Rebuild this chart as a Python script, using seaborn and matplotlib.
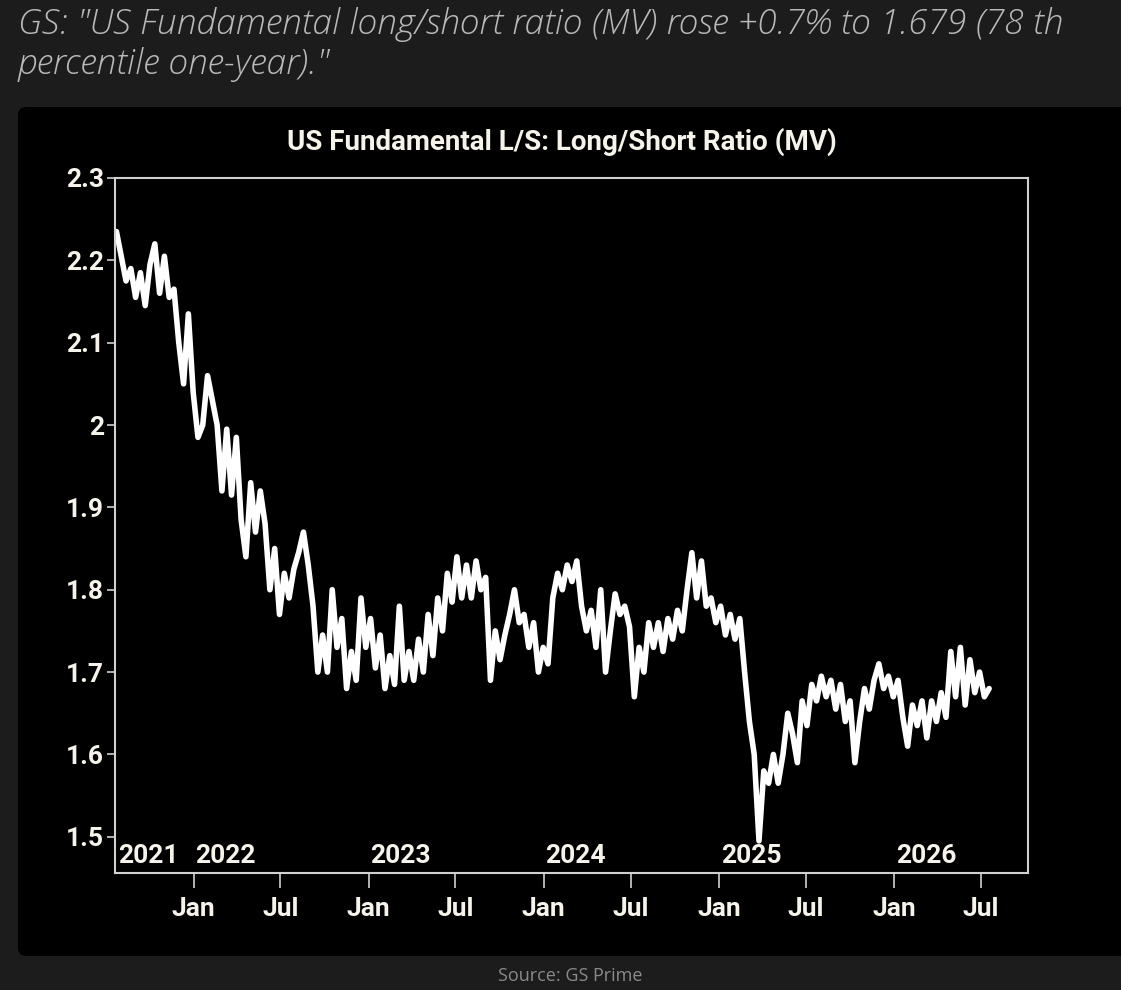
import pandas as pd
import numpy as np
import matplotlib
matplotlib.use('Agg')
import matplotlib.pyplot as plt
import matplotlib.dates as mdates
from matplotlib.patches import FancyBboxPatch
import seaborn as sns

# --- data (one value every 10 days) ---
start_date = '2021-07-24'
ratio_mv = [
    2.235, 2.205, 2.175, 2.19, 2.155, 2.185, 2.145, 2.195, 2.22, 2.16,
    2.205, 2.155, 2.165, 2.10, 2.05, 2.135, 2.04, 1.985, 2.00, 2.06,
    2.03, 2.00, 1.92, 1.995, 1.915, 1.985, 1.885, 1.84, 1.93, 1.87,
    1.92, 1.88, 1.80, 1.85, 1.77, 1.82, 1.79, 1.825, 1.845, 1.87,
    1.83, 1.78, 1.70, 1.745, 1.70, 1.80, 1.73, 1.765, 1.68, 1.725,
    1.69, 1.79, 1.73, 1.765, 1.705, 1.745, 1.68, 1.72, 1.685, 1.78,
    1.69, 1.725, 1.69, 1.74, 1.70, 1.77, 1.72, 1.79, 1.75, 1.82,
    1.785, 1.84, 1.79, 1.83, 1.79, 1.835, 1.80, 1.815, 1.69, 1.75,
    1.715, 1.745, 1.77, 1.80, 1.76, 1.77, 1.73, 1.76, 1.70, 1.73,
    1.71, 1.79, 1.82, 1.80, 1.83, 1.81, 1.835, 1.78, 1.75, 1.775,
    1.73, 1.80, 1.70, 1.75, 1.795, 1.77, 1.78, 1.755, 1.67, 1.73,
    1.70, 1.76, 1.73, 1.76, 1.725, 1.765, 1.74, 1.775, 1.75, 1.80,
    1.845, 1.79, 1.835, 1.78, 1.79, 1.76, 1.78, 1.745, 1.77, 1.74,
    1.765, 1.70, 1.64, 1.60, 1.495, 1.58, 1.565, 1.60, 1.565, 1.60,
    1.65, 1.625, 1.59, 1.665, 1.635, 1.685, 1.665, 1.695, 1.67, 1.69,
    1.655, 1.685, 1.64, 1.665, 1.59, 1.64, 1.68, 1.655, 1.69, 1.71,
    1.68, 1.695, 1.67, 1.69, 1.645, 1.61, 1.66, 1.635, 1.665, 1.62,
    1.665, 1.64, 1.675, 1.645, 1.725, 1.67, 1.73, 1.66, 1.715, 1.675,
    1.70, 1.67, 1.68,
]
y_ticks = [1.5, 1.6, 1.7, 1.8, 1.9, 2.0, 2.1, 2.2, 2.3]
y_tick_labels = ['1.5', '1.6', '1.7', '1.8', '1.9', '2', '2.1', '2.2', '2.3']
year_labels = ['2021', '2022', '2023', '2024', '2025', '2026']
year_dates = ['2021-07-24', '2022-01-01', '2023-01-01', '2024-01-01', '2025-01-01', '2026-01-01']

title = 'US Fundamental L/S: Long/Short Ratio (MV)'
header = 'GS: "US Fundamental long/short ratio (MV) rose +0.7% to 1.679 (78 th\npercentile one-year)."'
source = 'Source: GS Prime'

df = pd.DataFrame({
    'date': pd.date_range(start_date, periods=len(ratio_mv), freq='10D'),
    'ratio': ratio_mv,
})

# --- style ---
sns.set_style('dark', {'axes.facecolor': 'black', 'figure.facecolor': '#1c1c1c'})
plt.rcParams['font.family'] = ['Roboto', 'DejaVu Sans']
txt_col = '#f6f3ea'

fig = plt.figure(figsize=(11.21, 9.9), dpi=100)
fig.patch.set_facecolor('#1c1c1c')

# black panel behind the chart
panel = FancyBboxPatch((18 / 1121, (990 - 956) / 990), (1121 - 18) / 1121 + 0.01, (956 - 107) / 990,
                       boxstyle='round,pad=0,rounding_size=0.008', transform=fig.transFigure,
                       facecolor='black', edgecolor='none', zorder=-5)
fig.patches.append(panel)

ax = fig.add_axes([115 / 1121, (990 - 873) / 990, 913 / 1121, 695 / 990])
ax.set_zorder(2)
ax.set_facecolor('black')

sns.lineplot(data=df, x='date', y='ratio', ax=ax, color='white', linewidth=4)

ax.set_xlim(pd.Timestamp('2021-07-21'), pd.Timestamp('2026-10-07'))
ax.set_ylim(1.456, 2.3)
ax.set_xlabel('')
ax.set_ylabel('')
ax.grid(False)

for s in ax.spines.values():
    s.set_visible(True)
    s.set_color('#d0d0d0')
    s.set_linewidth(1.5)

ax.set_yticks(y_ticks)
ax.set_yticklabels(y_tick_labels)
ax.xaxis.set_major_locator(mdates.MonthLocator(bymonth=[1, 7]))
ax.xaxis.set_major_formatter(mdates.DateFormatter('%b'))
ax.tick_params(axis='y', left=True, length=6, width=1.2, color='#d0d0d0', pad=2,
               labelsize=19, labelcolor=txt_col)
ax.tick_params(axis='x', bottom=True, length=11, width=1.2, color='#d0d0d0', pad=6,
               labelsize=19, labelcolor=txt_col)
for lab in ax.get_xticklabels() + ax.get_yticklabels():
    lab.set_fontweight('bold')

# year labels inside the plot
for lbl, d in zip(year_labels, year_dates):
    ax.text(pd.Timestamp(d) + pd.Timedelta(days=4), 1.462, lbl, ha='left', va='bottom',
            fontsize=19, fontweight='bold', color=txt_col)

fig.text(562 / 1121, 1 - 142 / 990, title, ha='center', va='center', fontsize=20,
         fontweight='bold', color=txt_col)

fig.text(18 / 1121, 1 - 7 / 990, header, ha='left', va='top', fontsize=25.5,
         family=['Open Sans', 'DejaVu Sans'], style='italic', fontweight='light',
         color='#b9b9b9', linespacing=1.2)

fig.text(570 / 1121, 1 - 976 / 990, source, ha='center', va='center', fontsize=13,
         family=['Open Sans', 'DejaVu Sans'], color='#8a8a8a')

fig.savefig('out.png', dpi=100, facecolor=fig.get_facecolor())
